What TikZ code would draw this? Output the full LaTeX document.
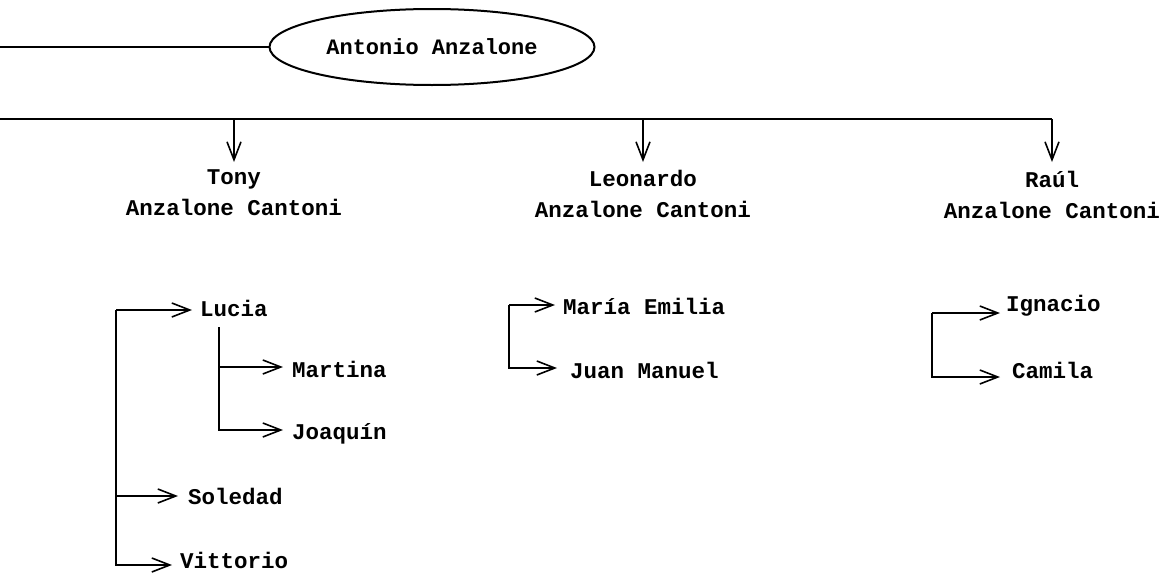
\documentclass[tikz,border=0pt]{standalone}
\usepackage{fontspec}
\setmonofont{Liberation Mono}
\usetikzlibrary{arrows.meta,shapes.geometric}
\begin{document}
\begin{tikzpicture}[x=1pt,y=-1pt,
  txt/.style={font=\ttfamily\bfseries\fontsize{22.5}{31}\selectfont, inner sep=0pt},
  parent/.style={txt, align=center},
  kid/.style={txt, anchor=west},
  ln/.style={line width=1.6pt},
  arr/.style={ln, -{Straight Barb[length=18pt,width=14pt,line width=1.6pt]}}]
\useasboundingbox (0,0) rectangle (1165,573);
% root
\node[ellipse, draw, line width=2pt, minimum width=325pt, minimum height=76pt,
      font=\ttfamily\bfseries\fontsize{22}{26}\selectfont] (root) at (432,47) {Antonio Anzalone};
\coordinate (c0) at (0,47);
\draw[ln] (c0) -- (root.west);
% children
\node[parent] (tony) at (234,193) {Tony\\Anzalone Cantoni};
\node[parent] (leo) at (643,194) {Leonardo\\Anzalone Cantoni};
\node[parent] (raul) at (1052,195) {Raúl\\Anzalone Cantoni};
\coordinate (b0) at (0,119);
\coordinate (t0) at (234,162);
\coordinate (l0) at (643,162);
\coordinate (r0) at (1052,162);
\draw[ln] (b0) -- (b0 -| raul);
\draw[arr] (b0 -| tony) -- (t0);
\draw[arr] (b0 -| leo) -- (l0);
\draw[arr] (b0 -| raul) -- (r0);
% Tony's children
\node[kid] (lucia) at (200,308) {Lucia};
\node[kid] (martina) at (292,369) {Martina};
\node[kid] (joaquin) at (292,434) {Joaquín};
\node[kid] (soledad) at (188,496) {Soledad};
\node[kid] (vittorio) at (180,560) {Vittorio};
\coordinate (t1) at (116,310);
\coordinate (t2) at (116,565);
\draw[arr, shorten >=8pt] (t1) -- (t1 -| lucia.west);
\draw[arr, shorten >=10pt] (t1 |- soledad.west) -- (soledad.west);
\draw[arr, shorten >=8pt] (t1) -- (t2) -- (t2 -| vittorio.west);
\coordinate (u1) at (219,327);
\coordinate (u2) at (219,430);
\coordinate (u3) at (219,367);
\draw[arr, shorten >=9pt] (u1) -- (u2) -- (u2 -| joaquin.west);
\draw[arr, shorten >=9pt] (u3) -- (u3 -| martina.west);
% Leonardo's children
\node[kid] (maria) at (563,306) {María Emilia};
\node[kid] (juan) at (570,370) {Juan Manuel};
\coordinate (m1) at (509,305);
\coordinate (m2) at (509,368);
\draw[arr, shorten >=8pt] (m1) -- (m1 -| maria.west);
\draw[arr, shorten >=13pt] (m1) -- (m2) -- (m2 -| juan.west);
% Raul's children
\node[kid] (ignacio) at (1006,306) {Ignacio};
\node[kid] (camila) at (1012,370) {Camila};
\coordinate (r1) at (932,313);
\coordinate (r2) at (932,377);
\draw[arr, shorten >=6pt] (r1) -- (r1 -| ignacio.west);
\draw[arr, shorten >=12pt] (r1) -- (r2) -- (r2 -| camila.west);
\end{tikzpicture}
\end{document}
